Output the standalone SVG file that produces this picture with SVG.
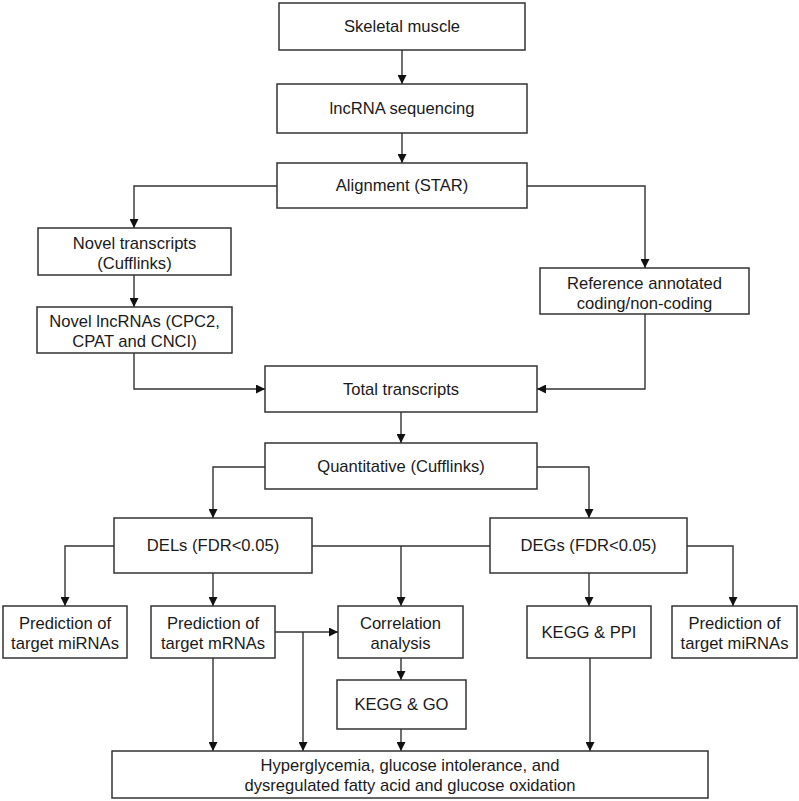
<svg xmlns="http://www.w3.org/2000/svg" width="799" height="801" viewBox="0 0 799 801">
<style>
.box{fill:#fff;stroke:#333;stroke-width:1.5}
.t{font-family:"Liberation Sans",Arial,sans-serif;font-size:16.6px;fill:#1a1a1a;text-anchor:middle}
.c{fill:none;stroke:#333;stroke-width:1.4}
</style>
<defs>
<marker id="ah" markerUnits="userSpaceOnUse" markerWidth="10" markerHeight="9" refX="9" refY="4.5" orient="auto">
<path d="M0,0 L9,4.5 L0,9 z" fill="#111"/>
</marker>
</defs>
<rect width="799" height="801" fill="#fff"/>
<g id="connectors">
<path class="c" d="M402,50 V84" marker-end="url(#ah)"/>
<path class="c" d="M402,133 V163" marker-end="url(#ah)"/>
<path class="c" d="M277,186 H134 V228" marker-end="url(#ah)"/>
<path class="c" d="M527,186 H645 V268" marker-end="url(#ah)"/>
<path class="c" d="M134,275 V307" marker-end="url(#ah)"/>
<path class="c" d="M134,353 V389 H265" marker-end="url(#ah)"/>
<path class="c" d="M645,314 V389 H537" marker-end="url(#ah)"/>
<path class="c" d="M401,412 V443" marker-end="url(#ah)"/>
<path class="c" d="M265,467 H213 V518" marker-end="url(#ah)"/>
<path class="c" d="M537,467 H589 V518" marker-end="url(#ah)"/>
<path class="c" d="M114,546 H65 V606" marker-end="url(#ah)"/>
<path class="c" d="M213,573 V606" marker-end="url(#ah)"/>
<path class="c" d="M312,546 H490"/>
<path class="c" d="M401,546 V606" marker-end="url(#ah)"/>
<path class="c" d="M687,546 H733 V606" marker-end="url(#ah)"/>
<path class="c" d="M589,573 V606" marker-end="url(#ah)"/>
<path class="c" d="M275,632 H338" marker-end="url(#ah)"/>
<path class="c" d="M303,632 V751" marker-end="url(#ah)"/>
<path class="c" d="M213,658 V751" marker-end="url(#ah)"/>
<path class="c" d="M401,658 V680" marker-end="url(#ah)"/>
<path class="c" d="M401,729 V751" marker-end="url(#ah)"/>
<path class="c" d="M590,658 V751" marker-end="url(#ah)"/>
</g>
<g id="skeletal"><rect class="box" x="279" y="3" width="246" height="47"/><text class="t" x="402" y="32">Skeletal muscle</text></g>
<g id="lncrna"><rect class="box" x="277" y="84" width="250" height="49"/><text class="t" x="402" y="114">lncRNA sequencing</text></g>
<g id="alignment"><rect class="box" x="277" y="163" width="250" height="45"/><text class="t" x="402" y="191">Alignment (STAR)</text></g>
<g id="novel-transcripts"><rect class="box" x="38" y="228" width="193" height="47"/><text class="t" x="134.5" y="248.5">Novel transcripts</text><text class="t" x="134.5" y="268.5">(Cufflinks)</text></g>
<g id="novel-lncrnas"><rect class="box" x="37" y="307" width="195" height="46"/><text class="t" x="134.5" y="327">Novel lncRNAs (CPC2,</text><text class="t" x="134.5" y="347">CPAT and CNCI)</text></g>
<g id="reference"><rect class="box" x="540" y="268" width="209" height="46"/><text class="t" x="644.5" y="289">Reference annotated</text><text class="t" x="644.5" y="309">coding/non-coding</text></g>
<g id="total"><rect class="box" x="265" y="366" width="272" height="46"/><text class="t" x="401" y="394.5">Total transcripts</text></g>
<g id="quantitative"><rect class="box" x="265" y="443" width="272" height="46"/><text class="t" x="401" y="471.5">Quantitative (Cufflinks)</text></g>
<g id="dels"><rect class="box" x="114" y="518" width="198" height="55"/><text class="t" x="213" y="551">DELs (FDR&lt;0.05)</text></g>
<g id="degs"><rect class="box" x="490" y="518" width="197" height="55"/><text class="t" x="588.5" y="551">DEGs (FDR&lt;0.05)</text></g>
<g id="pred-mirna-left"><rect class="box" x="3" y="606" width="124" height="52"/><text class="t" x="65" y="629">Prediction of</text><text class="t" x="65" y="649">target miRNAs</text></g>
<g id="pred-mrna"><rect class="box" x="151" y="606" width="124" height="52"/><text class="t" x="213" y="629">Prediction of</text><text class="t" x="213" y="649">target mRNAs</text></g>
<g id="correlation"><rect class="box" x="338" y="606" width="125" height="52"/><text class="t" x="400.5" y="629">Correlation</text><text class="t" x="400.5" y="649">analysis</text></g>
<g id="kegg-ppi"><rect class="box" x="527" y="606" width="124" height="52"/><text class="t" x="589" y="638">KEGG &amp; PPI</text></g>
<g id="pred-mirna-right"><rect class="box" x="672" y="606" width="125" height="52"/><text class="t" x="734.5" y="629">Prediction of</text><text class="t" x="734.5" y="649">target miRNAs</text></g>
<g id="kegg-go"><rect class="box" x="337" y="680" width="129" height="49"/><text class="t" x="401.5" y="710">KEGG &amp; GO</text></g>
<g id="outcome"><rect class="box" x="112" y="751" width="596" height="47"/><text class="t" x="410" y="771">Hyperglycemia, glucose intolerance, and</text><text class="t" x="410" y="791">dysregulated fatty acid and glucose oxidation</text></g>
</svg>
